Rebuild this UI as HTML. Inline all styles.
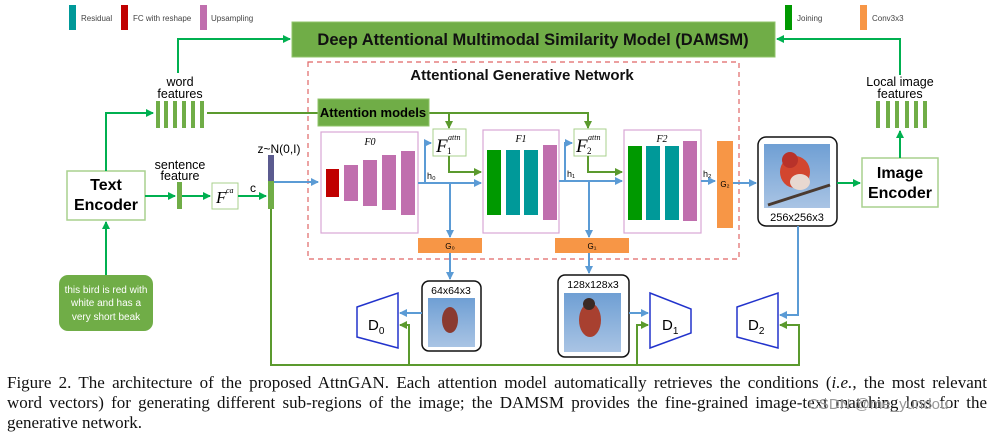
<!DOCTYPE html>
<html><head><meta charset="utf-8"><style>
html,body{margin:0;padding:0;background:#fff;}
body{width:996px;height:437px;position:relative;overflow:hidden;font-family:"Liberation Sans",sans-serif;}
svg{position:absolute;left:0;top:0;}
.cap{position:absolute;left:7px;width:980px;font-family:"Liberation Serif",serif;font-size:17px;line-height:20px;color:#111;white-space:nowrap;}
.j{text-align:justify;text-align-last:justify;}
.wm{position:absolute;left:808px;top:396px;font-size:15px;color:#999;font-family:"Liberation Sans",sans-serif;}
</style></head><body>
<svg width="996" height="437" viewBox="0 0 996 437" font-family="Liberation Sans, sans-serif">
<defs>
<marker id="ag" markerWidth="8" markerHeight="8" refX="7" refY="4" orient="auto" markerUnits="userSpaceOnUse"><path d="M0,0 L8,4 L0,8 z" fill="#00b050"/></marker>
<marker id="ad" markerWidth="8" markerHeight="8" refX="7" refY="4" orient="auto" markerUnits="userSpaceOnUse"><path d="M0,0 L8,4 L0,8 z" fill="#5b9a2e"/></marker>
<marker id="ab" markerWidth="8" markerHeight="8" refX="7" refY="4" orient="auto" markerUnits="userSpaceOnUse"><path d="M0,0 L8,4 L0,8 z" fill="#5b9bd5"/></marker>
<linearGradient id="sky" x1="0" y1="0" x2="0" y2="1"><stop offset="0" stop-color="#6f9fd4"/><stop offset="1" stop-color="#a9c4e4"/></linearGradient>
</defs>
<rect x="69" y="5" width="7" height="25" fill="#009999"/><text x="81" y="21" font-size="8" fill="#444">Residual</text>
<rect x="121" y="5" width="7" height="25" fill="#c00000"/><text x="133" y="21" font-size="8" fill="#444">FC with reshape</text>
<rect x="200" y="5" width="7" height="25" fill="#c06fae"/><text x="211" y="21" font-size="8" fill="#444">Upsampling</text>
<rect x="785" y="5" width="7" height="25" fill="#009900"/><text x="797" y="21" font-size="8" fill="#444">Joining</text>
<rect x="860" y="5" width="7" height="25" fill="#f79646"/><text x="872" y="21" font-size="8" fill="#444">Conv3x3</text>
<rect x="292" y="22" width="483" height="35" fill="#70ad47" stroke="#8fc46a"/>
<text x="533" y="45" font-size="16.5" font-weight="bold" text-anchor="middle" fill="#111">Deep Attentional Multimodal Similarity Model (DAMSM)</text>
<polyline points="178,73 178,39 290,39" fill="none" stroke="#00b050" stroke-width="2" marker-end="url(#ag)"/>
<polyline points="900,75 900,39 777,39" fill="none" stroke="#00b050" stroke-width="2" marker-end="url(#ag)"/>
<rect x="308" y="62" width="431" height="197" fill="none" stroke="#e06666" stroke-width="1.2" stroke-dasharray="5,4"/>
<text x="522" y="80" font-size="15" font-weight="bold" text-anchor="middle" fill="#111">Attentional Generative Network</text>
<rect x="67" y="171" width="78" height="49" fill="#fff" stroke="#a9d18e" stroke-width="1.5"/>
<text x="106" y="190" font-size="16" font-weight="bold" text-anchor="middle">Text</text>
<text x="106" y="210" font-size="16" font-weight="bold" text-anchor="middle">Encoder</text>
<rect x="59" y="275" width="94" height="56" rx="9" fill="#70ad47"/>
<text x="106" y="293" font-size="10" fill="#fff" text-anchor="middle">this bird is red with</text>
<text x="106" y="306" font-size="10" fill="#fff" text-anchor="middle">white and has a</text>
<text x="106" y="320" font-size="10" fill="#fff" text-anchor="middle">very short beak</text>
<line x1="106" y1="275" x2="106" y2="222" stroke="#00b050" stroke-width="2" marker-end="url(#ag)"/>
<polyline points="106,171 106,113 153,113" fill="none" stroke="#00b050" stroke-width="2" marker-end="url(#ag)"/>
<text x="180" y="86" font-size="12.5" text-anchor="middle">word</text>
<text x="180" y="98" font-size="12.5" text-anchor="middle">features</text>
<g fill="#70ad47"><rect x="156" y="101" width="4" height="27"/><rect x="164" y="101" width="4" height="27"/><rect x="173" y="101" width="4" height="27"/><rect x="182" y="101" width="4" height="27"/><rect x="191" y="101" width="4" height="27"/><rect x="200" y="101" width="4" height="27"/></g>
<polyline points="207,113 318,113" fill="none" stroke="#5b9a2e" stroke-width="2"/>
<polyline points="429,113 588,113 588,128" fill="none" stroke="#5b9a2e" stroke-width="2" marker-end="url(#ad)"/>
<line x1="449" y1="113" x2="449" y2="128" stroke="#5b9a2e" stroke-width="2" marker-end="url(#ad)"/>
<rect x="318" y="99" width="111" height="27" fill="#70ad47" stroke="#8fc46a"/>
<text x="373" y="117" font-size="13" font-weight="bold" text-anchor="middle">Attention models</text>
<text x="180" y="169" font-size="12.5" text-anchor="middle">sentence</text>
<text x="180" y="180" font-size="12.5" text-anchor="middle">feature</text>
<rect x="177" y="182" width="5" height="27" fill="#70ad47"/>
<line x1="145" y1="196" x2="175" y2="196" stroke="#00b050" stroke-width="2" marker-end="url(#ag)"/>
<line x1="182" y1="196" x2="210" y2="196" stroke="#00b050" stroke-width="2" marker-end="url(#ag)"/>
<rect x="212" y="183" width="26" height="26" fill="#fff" stroke="#a9d18e"/>
<text x="216" y="203" font-size="17" font-style="italic" font-family="Liberation Serif,serif">F</text><text x="226" y="193" font-size="8" font-style="italic" font-family="Liberation Serif,serif">ca</text>
<line x1="238" y1="196" x2="266" y2="196" stroke="#00b050" stroke-width="2" marker-end="url(#ag)"/>
<text x="253" y="192" font-size="12" text-anchor="middle">c</text>
<text x="279" y="153" font-size="12" text-anchor="middle">z~N(0,I)</text>
<rect x="268" y="155" width="6" height="26" fill="#5b5b8f"/>
<rect x="268" y="181" width="6" height="28" fill="#70ad47"/>
<line x1="274" y1="182" x2="318" y2="182" stroke="#5b9bd5" stroke-width="2" marker-end="url(#ab)"/>
<rect x="321" y="132" width="97" height="101" fill="#fff" stroke="#d9a6d6" stroke-width="1.2"/>
<text x="370" y="145" font-size="10" font-style="italic" font-family="Liberation Serif,serif" text-anchor="middle">F0</text>
<rect x="326" y="169" width="13" height="28" fill="#c00000"/>
<g fill="#c06fae"><rect x="344" y="165" width="14" height="36"/><rect x="363" y="160" width="14" height="46"/><rect x="382" y="155" width="14" height="55"/><rect x="401" y="151" width="14" height="64"/></g>
<rect x="433" y="129" width="33" height="27" fill="#fff" stroke="#a9d18e"/>
<text x="436" y="152" font-size="19" font-style="italic" font-family="Liberation Serif,serif">F</text><text x="448" y="140" font-size="8" font-style="italic" font-family="Liberation Serif,serif">attn</text><text x="447" y="154" font-size="9" font-family="Liberation Serif,serif">1</text>
<polyline points="449,156 449,172 481,172" fill="none" stroke="#5b9a2e" stroke-width="2" marker-end="url(#ad)"/>
<line x1="418" y1="183" x2="481" y2="183" stroke="#5b9bd5" stroke-width="2" marker-end="url(#ab)"/>
<polyline points="425,183 425,143 431,143" fill="none" stroke="#5b9bd5" stroke-width="2" marker-end="url(#ab)"/>
<line x1="450" y1="183" x2="450" y2="237" stroke="#5b9bd5" stroke-width="2" marker-end="url(#ab)"/>
<text x="427" y="179" font-size="9">h₀</text>
<rect x="418" y="238" width="64" height="15" fill="#f79646"/>
<text x="450" y="249" font-size="8" text-anchor="middle">G₀</text>
<rect x="483" y="130" width="76" height="103" fill="#fff" stroke="#d9a6d6" stroke-width="1.2"/>
<text x="521" y="142" font-size="10" font-style="italic" font-family="Liberation Serif,serif" text-anchor="middle">F1</text>
<rect x="487" y="150" width="14" height="65" fill="#009900"/>
<rect x="506" y="150" width="14" height="65" fill="#009999"/><rect x="524" y="150" width="14" height="65" fill="#009999"/>
<rect x="543" y="145" width="14" height="75" fill="#c06fae"/>
<rect x="574" y="129" width="32" height="27" fill="#fff" stroke="#a9d18e"/>
<text x="576" y="152" font-size="19" font-style="italic" font-family="Liberation Serif,serif">F</text><text x="588" y="140" font-size="8" font-style="italic" font-family="Liberation Serif,serif">attn</text><text x="587" y="154" font-size="9" font-family="Liberation Serif,serif">2</text>
<polyline points="588,156 588,172 622,172" fill="none" stroke="#5b9a2e" stroke-width="2" marker-end="url(#ad)"/>
<line x1="559" y1="181" x2="622" y2="181" stroke="#5b9bd5" stroke-width="2" marker-end="url(#ab)"/>
<polyline points="565,181 565,143 572,143" fill="none" stroke="#5b9bd5" stroke-width="2" marker-end="url(#ab)"/>
<line x1="589" y1="181" x2="589" y2="237" stroke="#5b9bd5" stroke-width="2" marker-end="url(#ab)"/>
<text x="567" y="177" font-size="9">h₁</text>
<rect x="555" y="238" width="74" height="15" fill="#f79646"/>
<text x="592" y="249" font-size="8" text-anchor="middle">G₁</text>
<rect x="624" y="130" width="77" height="103" fill="#fff" stroke="#d9a6d6" stroke-width="1.2"/>
<text x="662" y="142" font-size="10" font-style="italic" font-family="Liberation Serif,serif" text-anchor="middle">F2</text>
<rect x="628" y="146" width="14" height="74" fill="#009900"/>
<rect x="646" y="146" width="14" height="74" fill="#009999"/><rect x="665" y="146" width="14" height="74" fill="#009999"/>
<rect x="683" y="141" width="14" height="80" fill="#c06fae"/>
<line x1="701" y1="181" x2="715" y2="181" stroke="#5b9bd5" stroke-width="2" marker-end="url(#ab)"/>
<text x="703" y="177" font-size="9">h₂</text>
<rect x="717" y="141" width="16" height="87" fill="#f79646"/>
<text x="725" y="187" font-size="8" text-anchor="middle">G₂</text>
<line x1="733" y1="183" x2="756" y2="183" stroke="#5b9bd5" stroke-width="2" marker-end="url(#ab)"/>
<rect x="758" y="137" width="79" height="89" rx="8" fill="#fff" stroke="#111" stroke-width="1.5"/>
<rect x="764" y="144" width="66" height="64" fill="url(#sky)"/>
<ellipse cx="795" cy="172" rx="15" ry="16" fill="#d2462f"/><circle cx="790" cy="160" r="8" fill="#b8322a"/><ellipse cx="800" cy="182" rx="10" ry="8" fill="#e8d8d0"/>
<line x1="768" y1="205" x2="830" y2="185" stroke="#4a3a30" stroke-width="3"/>
<text x="797" y="221" font-size="11" text-anchor="middle">256x256x3</text>
<line x1="837" y1="183" x2="860" y2="183" stroke="#00b050" stroke-width="2" marker-end="url(#ag)"/>
<rect x="862" y="158" width="76" height="49" fill="#fff" stroke="#a9d18e" stroke-width="1.5"/>
<text x="900" y="178" font-size="16" font-weight="bold" text-anchor="middle">Image</text>
<text x="900" y="198" font-size="16" font-weight="bold" text-anchor="middle">Encoder</text>
<line x1="900" y1="158" x2="900" y2="131" stroke="#00b050" stroke-width="2" marker-end="url(#ag)"/>
<text x="900" y="86" font-size="12.5" text-anchor="middle">Local image</text>
<text x="900" y="98" font-size="12.5" text-anchor="middle">features</text>
<g fill="#70ad47"><rect x="876" y="101" width="4" height="27"/><rect x="886" y="101" width="4" height="27"/><rect x="895" y="101" width="4" height="27"/><rect x="905" y="101" width="4" height="27"/><rect x="914" y="101" width="4" height="27"/><rect x="923" y="101" width="4" height="27"/></g>
<line x1="450" y1="253" x2="450" y2="279" stroke="#5b9bd5" stroke-width="2" marker-end="url(#ab)"/>
<line x1="589" y1="253" x2="589" y2="273" stroke="#5b9bd5" stroke-width="2" marker-end="url(#ab)"/>
<rect x="422" y="281" width="59" height="70" rx="7" fill="#fff" stroke="#111" stroke-width="1.5"/>
<text x="451" y="294" font-size="10.5" text-anchor="middle">64x64x3</text>
<rect x="428" y="298" width="47" height="49" fill="url(#sky)"/>
<ellipse cx="450" cy="320" rx="8" ry="13" fill="#8a3a30"/>
<rect x="558" y="275" width="71" height="82" rx="7" fill="#fff" stroke="#111" stroke-width="1.5"/>
<text x="593" y="288" font-size="10.5" text-anchor="middle">128x128x3</text>
<rect x="564" y="293" width="57" height="59" fill="url(#sky)"/>
<ellipse cx="590" cy="320" rx="11" ry="17" fill="#a84030"/><circle cx="589" cy="304" r="6" fill="#3a2a25"/>
<polygon points="357,307 398,293 398,348 357,337" fill="#fff" stroke="#2233cc" stroke-width="1.5"/>
<text x="368" y="330" font-size="15">D<tspan font-size="10" dy="4">0</tspan></text>
<polygon points="650,293 691,309 691,333 650,348" fill="#fff" stroke="#2233cc" stroke-width="1.5"/>
<text x="662" y="330" font-size="15">D<tspan font-size="10" dy="4">1</tspan></text>
<polygon points="737,307 778,293 778,348 737,337" fill="#fff" stroke="#2233cc" stroke-width="1.5"/>
<text x="748" y="330" font-size="15">D<tspan font-size="10" dy="4">2</tspan></text>
<line x1="422" y1="313" x2="400" y2="313" stroke="#5b9bd5" stroke-width="2" marker-end="url(#ab)"/>
<line x1="629" y1="313" x2="648" y2="313" stroke="#5b9bd5" stroke-width="2" marker-end="url(#ab)"/>
<polyline points="798,226 798,315 780,315" fill="none" stroke="#5b9bd5" stroke-width="2" marker-end="url(#ab)"/>
<polyline points="271,209 271,365 799,365 799,325 780,325" fill="none" stroke="#5b9a2e" stroke-width="2" marker-end="url(#ad)"/>
<polyline points="409,365 409,325 400,325" fill="none" stroke="#5b9a2e" stroke-width="2" marker-end="url(#ad)"/>
<polyline points="637,365 637,325 648,325" fill="none" stroke="#5b9a2e" stroke-width="2" marker-end="url(#ad)"/>
</svg>
<div class="cap j" style="top:373px;">Figure 2. The architecture of the proposed AttnGAN. Each attention model automatically retrieves the conditions (<i>i.e.</i>, the most relevant</div>
<div class="cap j" style="top:393px;">word vectors) for generating different sub-regions of the image; the DAMSM provides the fine-grained image-text matching loss for the</div>
<div class="cap" style="top:413px;">generative network.</div>
<div class="wm">CSDN @me_yundou</div>
</body></html>
